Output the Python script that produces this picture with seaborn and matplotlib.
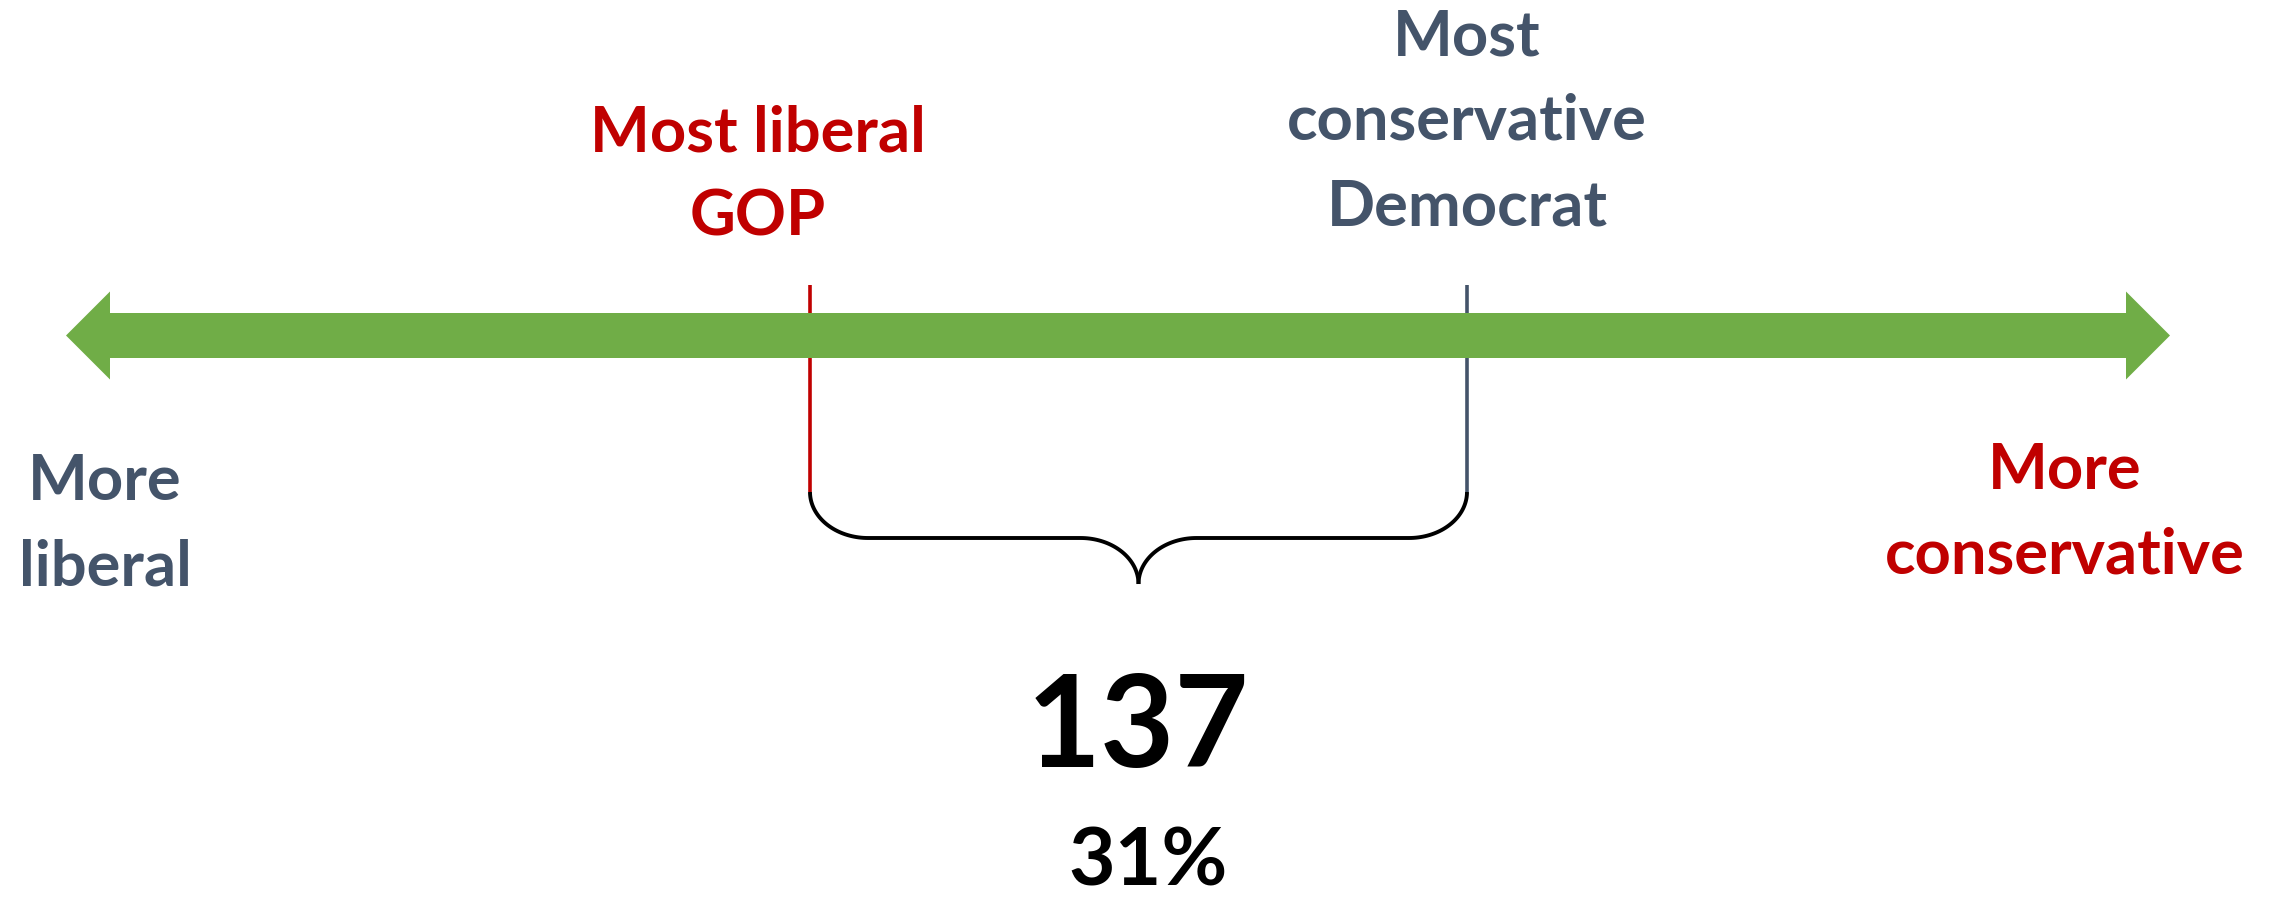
import matplotlib
matplotlib.use("Agg")
import matplotlib.pyplot as plt
from matplotlib.patches import Polygon
import numpy as np
import seaborn as sns

# ---- data ----
left_label = ["More", "liberal"]
right_label = ["More", "conservative"]
gop_label = ["Most liberal", "GOP"]
dem_label = ["Most", "conservative", "Democrat"]
gap_count = "137"
gap_share = "31%"

# ---- style ----
sns.set_theme(style="white")
plt.rcParams['font.family'] = ['Lato', 'DejaVu Sans']

RED = "#C00000"
SLATE = "#44546A"
GREEN = "#70AD47"

W, H = 2285, 901
fig = plt.figure(figsize=(W / 100, H / 100), dpi=100)
ax = fig.add_axes([0, 0, 1, 1])
ax.set_xlim(0, W)
ax.set_ylim(H, 0)
ax.axis("off")

# layout (pixel units)
arrow_y = 335.5
shaft_half = 22.5
head_half = 44
left_tip, left_base = 66, 110
right_base, right_tip = 2126, 2170
gop_x, dem_x = 810, 1467
line_top, line_bot = 285, 492
brace_mid_y, brace_tip_y = 538, 584
brace_tip_x = (gop_x + dem_x) / 2

# vertical markers (behind arrow)
ax.vlines(gop_x, line_top, line_bot, color=RED, lw=2.6, zorder=1)
ax.vlines(dem_x, line_top, line_bot, color=SLATE, lw=2.6, zorder=1)

# double-headed arrow
pts = [
    (left_tip, arrow_y),
    (left_base, arrow_y - head_half),
    (left_base, arrow_y - shaft_half),
    (right_base, arrow_y - shaft_half),
    (right_base, arrow_y - head_half),
    (right_tip, arrow_y),
    (right_base, arrow_y + head_half),
    (right_base, arrow_y + shaft_half),
    (left_base, arrow_y + shaft_half),
    (left_base, arrow_y + head_half),
]
ax.add_patch(Polygon(pts, closed=True, facecolor=GREEN, edgecolor="none", zorder=3))

# curly brace
rx = 58
ry = brace_mid_y - line_bot
t = np.linspace(0, np.pi / 2, 40)
seg1x = gop_x + rx - rx * np.cos(t)
seg1y = line_bot + ry * np.sin(t)
seg2x = np.array([gop_x + rx, brace_tip_x - rx])
seg2y = np.array([brace_mid_y, brace_mid_y])
seg3x = brace_tip_x - rx + rx * np.sin(t)
seg3y = brace_tip_y - ry * np.cos(t)
left_x = np.concatenate([seg1x, seg2x, seg3x])
left_y = np.concatenate([seg1y, seg2y, seg3y])
right_x = (gop_x + dem_x) - left_x
ax.plot(left_x, left_y, color="black", lw=2.8, solid_capstyle="butt", zorder=2)
ax.plot(right_x, left_y, color="black", lw=2.8, solid_capstyle="butt", zorder=2)

fs = 45.5
lh = 85
def stack(lines, x, y0, color):
    for i, s in enumerate(lines):
        ax.text(x, y0 + i * lh, s, ha="center", va="baseline", fontsize=fs,
                fontweight="bold", color=color)

stack(gop_label, 758, 151, RED)
stack(dem_label, 1467, 55, SLATE)
stack(left_label, 105, 500, SLATE)
stack(right_label, 2065, 489, RED)

ax.text(1138, 767, gap_count, ha="center", va="baseline", fontsize=92,
        fontweight="bold", color="black")
ax.text(1148, 886, gap_share, ha="center", va="baseline", fontsize=58,
        fontweight="bold", color="black")

fig.savefig("out.png", dpi=100, facecolor="white")
